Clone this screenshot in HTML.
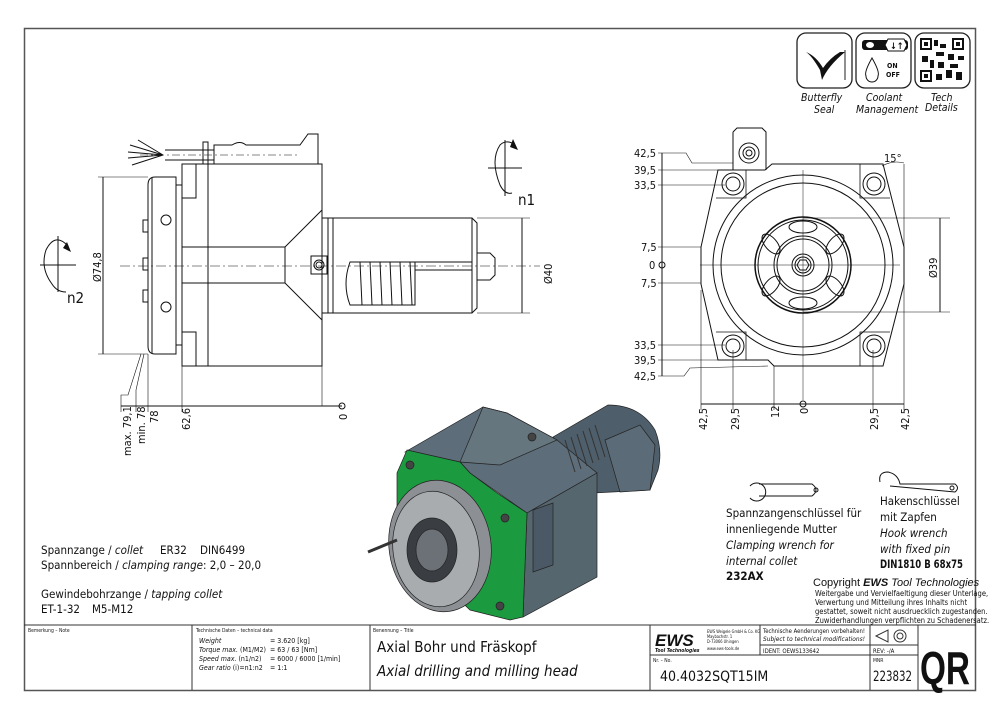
<!DOCTYPE html>
<html><head><meta charset="utf-8"><style>
html,body{margin:0;padding:0;background:#fff;}
svg{display:block;}
text{font-family:"DejaVu Sans Condensed","Liberation Sans Narrow","Liberation Sans",sans-serif;fill:#111;}
.it{font-style:italic;}
</style></head><body>
<svg width="1000" height="715" viewBox="0 0 1000 715" xmlns="http://www.w3.org/2000/svg">
<rect x="24.5" y="28.5" width="951" height="662" fill="none" stroke="#555" stroke-width="1.5"/>

<!-- ICONS -->
<g stroke="#222" stroke-width="1.3" fill="none">
<rect x="797" y="33" width="55" height="55" rx="9"/>
<rect x="856" y="33" width="55" height="55" rx="9"/>
<rect x="915" y="33" width="55" height="55" rx="9"/>
</g>
<path d="M806 52 Q812 56 820 70 L822 80 Q828 66 845 52 L840 52 Q830 58 823 68 Q816 56 806 52 Z" fill="#111"/>
<line x1="845" y1="50" x2="845" y2="80" stroke="#222"/>
<rect x="862" y="40" width="46" height="10" rx="3" fill="#111"/>
<ellipse cx="870" cy="45" rx="4" ry="3" fill="#fff"/>
<path d="M888 39 L904 39 L907 45 L904 51 L888 51 L885 45Z" fill="#fff" stroke="#111"/>
<text x="890" y="49" font-size="9" font-weight="bold">↓↑</text>
<path d="M872 58 Q864 72 866 76 A6 6 0 0 0 878 76 Q880 72 872 58Z" fill="none" stroke="#111"/>
<text x="887" y="68" font-size="7" font-weight="bold">ON</text>
<text x="886" y="77" font-size="7" font-weight="bold">OFF</text>
<g fill="#111">
<rect x="920" y="38" width="12" height="12"/><rect x="952" y="38" width="12" height="12"/><rect x="920" y="70" width="12" height="12"/>
<rect x="934" y="40" width="4" height="6"/><rect x="940" y="44" width="6" height="4"/><rect x="936" y="52" width="8" height="4"/><rect x="948" y="54" width="6" height="6"/>
<rect x="922" y="56" width="6" height="6"/><rect x="930" y="60" width="4" height="8"/><rect x="938" y="62" width="6" height="6"/><rect x="950" y="64" width="8" height="4"/>
<rect x="946" y="70" width="6" height="8"/><rect x="956" y="72" width="6" height="8"/><rect x="936" y="74" width="6" height="6"/><rect x="958" y="56" width="6" height="4"/>
</g>
<g fill="#fff"><rect x="922" y="40" width="8" height="8"/><rect x="954" y="40" width="8" height="8"/><rect x="922" y="72" width="8" height="8"/></g>
<g fill="#111"><rect x="924" y="42" width="4" height="4"/><rect x="956" y="42" width="4" height="4"/><rect x="924" y="74" width="4" height="4"/></g>
<g font-size="10.5">
<text x="801" y="101" class="it">Butterfly</text><text x="814" y="113" class="it">Seal</text>
<text x="866" y="101" class="it">Coolant</text><text x="856" y="113" class="it">Management</text>
<text x="931" y="101" class="it">Tech</text><text x="925" y="111" class="it">Details</text>
</g>

<!-- SIDE VIEW -->
<g stroke="#111" stroke-width="1" fill="none">
<line x1="120" y1="266" x2="540" y2="266" stroke-dasharray="10,3,2,3" stroke-width="0.6"/>
<rect x="182" y="164" width="140" height="202"/>
<line x1="208" y1="164" x2="208" y2="366"/>
<rect x="182" y="164" width="14" height="34"/><rect x="182" y="332" width="14" height="34"/>
<line x1="176" y1="185" x2="182" y2="185"/><line x1="176" y1="345" x2="182" y2="345"/>
<path d="M176 177 L155 177 Q148 177 148 185 L148 346 Q148 354 155 354 L176 354 Z"/>
<line x1="152" y1="178" x2="152" y2="353"/>
<rect x="143" y="220" width="5" height="12"/><rect x="143" y="258" width="5" height="12"/><rect x="143" y="290" width="5" height="12"/>
<ellipse cx="166" cy="220" rx="5" ry="5"/><ellipse cx="166" cy="307" rx="5" ry="5"/>
<path d="M182 247 L285 247 L322 210 M182 283 L285 283 L322 320 M285 247 L285 283"/>
<rect x="311" y="256" width="16" height="18"/><circle cx="319" cy="265" r="5"/><circle cx="319" cy="265" r="3"/>
<rect x="322" y="218" width="6" height="95"/><rect x="328" y="218" width="5" height="95"/>
<path d="M333 218 L472 218 L477 223 L477 308 L472 313 L333 313"/>
<line x1="472" y1="218" x2="472" y2="313"/>
<path d="M350 262 Q342 284 350 305 L415 305 L415 262 Z"/>
<path d="M360 262 L362 305 M370 262 L372 305 M380 262 L382 305 M390 262 L392 305 M400 262 L402 305 M410 262 L412 305"/>
<line x1="415" y1="262" x2="472" y2="262"/><line x1="415" y1="270" x2="472" y2="270"/>
<path d="M477 253 L490 253 L495 258 L495 275 L490 280 L477 280"/>
<path d="M214 145 L232 145 Q240 140 246 145 L300 145 L308 134 L318 134 L318 164 L214 164 Z"/>
<line x1="165" y1="150" x2="214" y2="150"/><line x1="165" y1="160" x2="214" y2="160"/>
<rect x="203" y="142" width="5" height="22"/>
<path d="M163 155 L130 145 M163 155 L128 152 M163 155 L128 158 M163 155 L132 165 M163 155 L138 140"/>
<line x1="140" y1="155" x2="300" y2="155" stroke-dasharray="8,3,2,3" stroke-width="0.6"/>
<line x1="103" y1="177" x2="103" y2="354"/><line x1="98" y1="177" x2="148" y2="177" stroke-width="0.6"/><line x1="98" y1="354" x2="148" y2="354" stroke-width="0.6"/>
<line x1="522" y1="218" x2="522" y2="313"/><line x1="477" y1="218" x2="530" y2="218" stroke-width="0.6"/><line x1="477" y1="313" x2="530" y2="313" stroke-width="0.6"/>
<line x1="121" y1="406" x2="342" y2="406"/>
<line x1="322" y1="366" x2="322" y2="406" stroke-width="0.6"/><line x1="182" y1="366" x2="182" y2="412" stroke-width="0.6"/>
<line x1="148" y1="354" x2="148" y2="412" stroke-width="0.6"/>
<path d="M144 354 L136 390 L136 412 M141 354 L128 395 L121 395 L121 412" stroke-width="0.6"/>
<circle cx="342" cy="406" r="3"/>
<line x1="488" y1="168" x2="522" y2="168"/><line x1="505" y1="140" x2="505" y2="196"/>
<path d="M512 143 Q505 140 500 145 Q490 160 500 185 Q505 195 512 193"/>
<line x1="40" y1="265" x2="76" y2="265"/><line x1="58" y1="236" x2="58" y2="292"/>
<path d="M68 246 Q55 232 46 250 Q40 268 52 284 Q57 292 66 292"/>
</g>
<path d="M513 139 L518 150 L510 147Z M67 242 L71 252 L63 248Z" fill="#111"/>
<g font-size="11">
<text x="518" y="205" font-size="15">n1</text>
<text x="67" y="303" font-size="15">n2</text>
<text transform="translate(101,282) rotate(-90)">Ø74,8</text>
<text transform="translate(552,284) rotate(-90)">Ø40</text>
<text transform="translate(347,420) rotate(-90)">0</text>
<text transform="translate(190,430) rotate(-90)">62,6</text>
<text transform="translate(158,423) rotate(-90)">78</text>
<text transform="translate(145,444) rotate(-90)">min. 78</text>
<text transform="translate(131,456) rotate(-90)">max. 79,1</text>
</g>

<!-- FRONT VIEW -->
<g stroke="#111" stroke-width="1" fill="none">
<path d="M718 170 L765 170 L772 164 L883 164 L904 247 L904 284 L883 366 L774 366 L768 360 L718 360 L701 284 L701 247 Z"/>
<path d="M733 132 L737 128 L762 128 L766 132 L766 170 M733 132 L733 170"/>
<circle cx="749" cy="153" r="10"/><circle cx="749" cy="153" r="6"/><circle cx="749" cy="153" r="3"/>
<circle cx="803" cy="265" r="90"/><circle cx="803" cy="265" r="82"/>
<circle cx="803" cy="265" r="48" stroke-width="1.5"/><circle cx="803" cy="265" r="45"/>
<circle cx="803" cy="265" r="29"/><circle cx="803" cy="265" r="26"/>
<circle cx="803" cy="265" r="11"/><circle cx="803" cy="265" r="8"/>
<path d="M797 265 L800 260 L806 260 L809 265 L806 270 L800 270Z"/>
<ellipse cx="803" cy="227" rx="14" ry="6"/><ellipse cx="803" cy="303" rx="14" ry="6"/>
<ellipse cx="771" cy="244" rx="6" ry="12" transform="rotate(-40 771 244)"/><ellipse cx="835" cy="244" rx="6" ry="12" transform="rotate(40 835 244)"/>
<ellipse cx="771" cy="286" rx="6" ry="12" transform="rotate(40 771 286)"/><ellipse cx="835" cy="286" rx="6" ry="12" transform="rotate(-40 835 286)"/>
<circle cx="733" cy="184" r="11"/><circle cx="733" cy="184" r="7"/>
<circle cx="874" cy="184" r="11"/><circle cx="874" cy="184" r="7"/>
<circle cx="733" cy="346" r="11"/><circle cx="733" cy="346" r="7"/>
<circle cx="874" cy="346" r="11"/><circle cx="874" cy="346" r="7"/>
<path d="M716 198 L746 198 L746 170 M860 164 L860 198 L890 198 M716 332 L746 332 L746 360 M860 366 L860 332 L890 332" stroke-width="0.8"/>
<line x1="803" y1="170" x2="803" y2="400" stroke-width="0.5"/><line x1="700" y1="265" x2="900" y2="265" stroke-width="0.5"/>
<line x1="662" y1="153" x2="662" y2="376"/>
<g stroke-width="0.6">
<path d="M658 153 L686 153 L692 163 L733 163"/><path d="M658 170 L689 170 L720 170"/><line x1="658" y1="185" x2="725" y2="185"/>
<line x1="658" y1="247" x2="701" y2="247"/><line x1="658" y1="283" x2="701" y2="283"/>
<line x1="658" y1="345" x2="725" y2="345"/><path d="M658 360 L690 360 L765 360"/><path d="M658 376 L684 376 L690 368 L768 366"/>
<line x1="701" y1="290" x2="701" y2="410"/><line x1="733" y1="350" x2="733" y2="410"/><line x1="774" y1="366" x2="774" y2="410"/>
<line x1="873" y1="350" x2="873" y2="410"/><line x1="904" y1="164" x2="904" y2="410"/>
<line x1="803" y1="218" x2="950" y2="218"/><line x1="803" y1="312" x2="950" y2="312"/>
<path d="M882 166 Q893 160 904 163"/>
</g>
<line x1="701" y1="404" x2="904" y2="404"/>
<line x1="940" y1="218" x2="940" y2="312"/>
<circle cx="662" cy="265" r="3"/><circle cx="803" cy="404" r="3"/>
</g>
<g font-size="11">
<text x="634" y="157">42,5</text><text x="634" y="174">39,5</text><text x="634" y="189">33,5</text>
<text x="641" y="251">7,5</text><text x="649" y="269">0</text><text x="641" y="287">7,5</text>
<text x="634" y="349">33,5</text><text x="634" y="364">39,5</text><text x="634" y="380">42,5</text>
<text x="884" y="162">15°</text>
<text transform="translate(707,430) rotate(-90)">42,5</text><text transform="translate(739,430) rotate(-90)">29,5</text>
<text transform="translate(779,418) rotate(-90)">12</text><text transform="translate(808,414) rotate(-90)">0</text>
<text transform="translate(878,430) rotate(-90)">29,5</text><text transform="translate(909,430) rotate(-90)">42,5</text>
<text transform="translate(937,278) rotate(-90)">Ø39</text>
</g>

<!-- 3D MODEL -->
<g stroke="#222" stroke-width="0.7">
<path d="M553 437 L608 405 Q640 405 655 430 Q663 450 658 470 L650 490 L593 493 Z" fill="#4e5e6a"/>
<path d="M605 440 L640 425 L655 445 L650 490 L620 492Z" fill="#5b6b77"/>
<path d="M405 452 L483 407 L507 413 L557 440 L597 473 L527 513 L470 473 L460 462 Z" fill="#5d6d79"/>
<path d="M483 407 L507 413 L557 440 L500 465 L460 462 Z" fill="#66767f"/>
<path d="M527 513 L597 473 L597 577 L523 617 Z" fill="#56666f"/>
<path d="M533 510 L553 503 L553 565 L533 572 Z" fill="#4a5965"/>
<path d="M407 450 L460 462 L470 473 L497 493 L527 513 L523 617 L510 620 L470 610 L397 540 L397 473 Z" fill="#1c9a40"/>
<ellipse cx="440" cy="546" rx="51" ry="66" fill="#8c9094" transform="rotate(-8 440 546)"/>
<ellipse cx="436" cy="549" rx="43" ry="58" fill="#a9acaf" transform="rotate(-8 436 549)"/>
<ellipse cx="432" cy="550" rx="25" ry="32" fill="#3a3e43"/>
<ellipse cx="432" cy="550" rx="16" ry="21" fill="#6c7177"/>
<circle cx="410" cy="465" r="4" fill="#444"/><circle cx="505" cy="518" r="4" fill="#444"/><circle cx="500" cy="606" r="4" fill="#444"/>
<circle cx="532" cy="437" r="4" fill="#444"/>
<line x1="368" y1="552" x2="397" y2="540" stroke="#333" stroke-width="3"/>
</g>
<g stroke="#333" stroke-width="1" fill="none">
<path d="M565 440 L575 472 M571 437 L581 469 M577 434 L587 466 M583 431 L593 463 M589 428 L599 460 M595 425 L605 457"/>
</g>

<!-- WRENCHES -->
<g stroke="#111" stroke-width="1" fill="none">
<path d="M750 486 A9 9 0 1 1 750 498"/>
<path d="M759 484 L812 484 Q820 490 812 496 L759 496"/>
<circle cx="816" cy="490" r="2"/>
<path d="M880 482 Q878 472 888 472 Q898 474 900 484 L955 484 Q960 488 955 492 L890 486"/>
<circle cx="952" cy="488" r="2"/>
</g>
<g font-size="11.5">
<text x="726" y="517">Spannzangenschlüssel für</text>
<text x="726" y="533">innenliegende Mutter</text>
<text x="726" y="549" class="it">Clamping wrench for</text>
<text x="726" y="565" class="it">internal collet</text>
<text x="726" y="580" font-weight="bold">232AX</text>
<text x="880" y="505">Hakenschlüssel</text>
<text x="880" y="521">mit Zapfen</text>
<text x="880" y="537" class="it">Hook wrench</text>
<text x="880" y="553" class="it">with fixed pin</text>
<text x="880" y="568" font-weight="bold" textLength="83" lengthAdjust="spacingAndGlyphs">DIN1810 B 68x75</text>
</g>
<text x="813" y="586" font-size="11" style="font-family:'Liberation Sans',sans-serif">Copyright <tspan font-weight="bold" font-style="italic">EWS</tspan> <tspan font-style="italic">Tool Technologies</tspan></text>
<g font-size="7.5" style="font-family:'Liberation Sans',sans-serif">
<text x="815" y="596">Weitergabe und Vervielfaeltigung dieser Unterlage,</text>
<text x="815" y="605">Verwertung und Mitteilung ihres Inhalts nicht</text>
<text x="815" y="614">gestattet, soweit nicht ausdruecklich zugestanden.</text>
<text x="815" y="623">Zuwiderhandlungen verpflichten zu Schadenersatz.</text>
</g>
<g font-size="11.5">
<text x="41" y="554">Spannzange / <tspan class="it">collet</tspan></text><text x="160" y="554">ER32</text><text x="200" y="554">DIN6499</text>
<text x="41" y="569">Spannbereich / <tspan class="it">clamping range</tspan>: 2,0 – 20,0</text>
<text x="41" y="598">Gewindebohrzange / <tspan class="it">tapping collet</tspan></text>
<text x="41" y="613">ET-1-32</text><text x="92" y="613">M5-M12</text>
</g>

<!-- TITLE BLOCK -->
<g stroke="#333" stroke-width="1" fill="none">
<line x1="24" y1="625" x2="976" y2="625"/>
<line x1="192" y1="625" x2="192" y2="690"/><line x1="370" y1="625" x2="370" y2="690"/>
<line x1="650" y1="625" x2="650" y2="690"/><line x1="760" y1="625" x2="760" y2="655"/>
<line x1="870" y1="625" x2="870" y2="690"/><line x1="918" y1="625" x2="918" y2="690"/>
<line x1="650" y1="655" x2="918" y2="655"/><line x1="760" y1="645" x2="918" y2="645"/>
<path d="M876 636 L888 630 L888 642 Z"/><circle cx="900" cy="636" r="6"/><circle cx="900" cy="636" r="3"/>
</g>
<g font-size="5">
<text x="28" y="632">Bemerkung – Note</text>
<text x="196" y="632">Technische Daten – technical data</text>
<text x="373" y="632">Benennung – Title</text>
<text x="653" y="662">Nr. – No.</text>
<text x="873" y="662">MNR</text>
</g>
<g font-size="7">
<text x="199" y="643" class="it">Weight</text><text x="270" y="643">=  3.620 [kg]</text>
<text x="199" y="652" class="it">Torque max. <tspan font-style="normal">(M1/M2)</tspan></text><text x="270" y="652">=  63 / 63 [Nm]</text>
<text x="199" y="661" class="it">Speed max. <tspan font-style="normal">(n1/n2)</tspan></text><text x="270" y="661">=  6000 / 6000 [1/min]</text>
<text x="199" y="670" class="it">Gear ratio  <tspan font-style="normal">(i)=n1:n2</tspan></text><text x="270" y="670">=  1:1</text>
</g>
<text x="377" y="652" font-size="15">Axial Bohr und Fräskopf</text>
<text x="377" y="676" font-size="15" class="it">Axial drilling and milling head</text>
<text x="655" y="646" font-size="17" font-weight="bold" font-style="italic" style="font-family:'Liberation Sans',sans-serif">EWS</text>
<text x="655" y="652" font-size="5" font-weight="bold" font-style="italic">Tool Technologies</text>
<g font-size="4"><text x="707" y="633">EWS Weigele GmbH &amp; Co. KG</text><text x="707" y="638">Maybachstr. 1</text><text x="707" y="643">D-73066 Uhingen</text><text x="707" y="650">www.ews-tools.de</text></g>
<text x="763" y="633" font-size="6.5" textLength="102" lengthAdjust="spacingAndGlyphs">Technische Aenderungen vorbehalten!</text>
<text x="763" y="641" font-size="6.5" class="it" textLength="102" lengthAdjust="spacingAndGlyphs">Subject to technical modifications!</text>
<text x="763" y="653" font-size="6">IDENT:  OEWS133642</text>
<text x="873" y="653" font-size="6">REV:  -/A</text>
<text x="660" y="681" font-size="14">40.4032SQT15IM</text>
<text x="873" y="681" font-size="14" textLength="39" lengthAdjust="spacingAndGlyphs">223832</text>
<text x="920" y="684" font-size="46" font-weight="bold" textLength="50" lengthAdjust="spacingAndGlyphs" style="font-family:'Liberation Sans Narrow','Liberation Sans',sans-serif">QR</text>
</svg>
</body></html>
